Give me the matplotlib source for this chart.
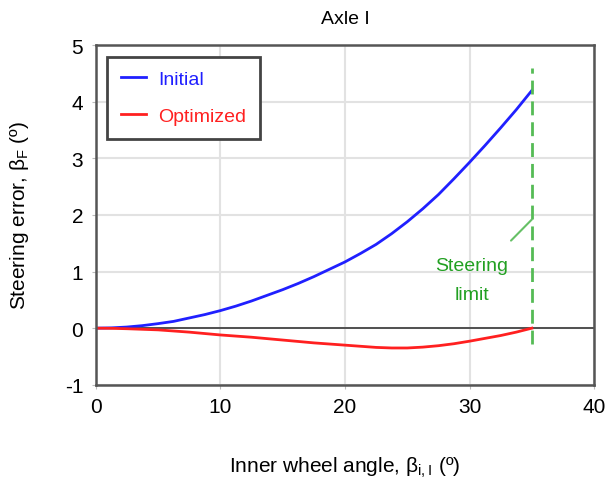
import matplotlib

matplotlib.use("agg")
import matplotlib.pyplot as plt

# steering error vs inner wheel angle (deg)
angle = [0, 1.25, 2.5, 3.75, 5, 6.25, 7.5, 8.75, 10, 11.25, 12.5, 13.75, 15, 16.25, 17.5,
         18.75, 20, 21.25, 22.5, 23.75, 25, 26.25, 27.5, 28.75, 30, 31.25, 32.5, 33.75, 35]
err_initial = [0, 0.005, 0.02, 0.045, 0.08, 0.12, 0.18, 0.24, 0.31, 0.39, 0.48, 0.58, 0.68,
               0.79, 0.91, 1.04, 1.17, 1.32, 1.48, 1.67, 1.88, 2.11, 2.36, 2.64, 2.93,
               3.23, 3.54, 3.86, 4.20]
err_optimized = [0, -0.003, -0.01, -0.02, -0.03, -0.05, -0.07, -0.095, -0.12, -0.14, -0.16,
                 -0.185, -0.21, -0.235, -0.26, -0.28, -0.30, -0.32, -0.34, -0.35, -0.35,
                 -0.335, -0.31, -0.275, -0.23, -0.18, -0.13, -0.07, 0]
steer_limit = 35

plt.rcParams["font.family"] = ["Liberation Sans", "DejaVu Sans"]
plt.rcParams["axes.unicode_minus"] = False
plt.rcParams["mathtext.default"] = "regular"

fig = plt.figure(figsize=(6.1, 4.81), dpi=100)
ax = fig.add_axes([0.157, 0.198, 0.817, 0.706])

ax.plot(angle, err_initial, color="#2020ff", lw=2, label="Initial")
ax.plot(angle, err_optimized, color="#ff2020", lw=2, label="Optimized")
ax.axhline(0, color="#444444", lw=1.3, zorder=1)
ax.plot([steer_limit, steer_limit], [-0.28, 4.6], color="#55bb55", lw=2, ls=(0, (5, 2.5)))
ax.annotate("Steering\nlimit", xy=(steer_limit, 1.92), xytext=(30.2, 0.85),
            ha="center", va="center", color="#22a022", fontsize=14, linespacing=1.9,
            arrowprops=dict(arrowstyle="-", color="#66c066", lw=1.5, shrinkA=14, shrinkB=0))

ax.set_xlim(0, 40)
ax.set_ylim(-1, 5)
ax.set_xticks([0, 10, 20, 30, 40])
ax.set_yticks(range(-1, 6))
ax.grid(True, color="#e2e2e2", lw=1.5)
ax.set_axisbelow(True)
for s in ax.spines.values():
    s.set_color("#555555")
    s.set_linewidth(1.8)
ax.tick_params(labelsize=15, length=3, color="#bbbbbb", pad=6)

ax.set_title("Axle I", fontsize=14, pad=16)
ax.set_xlabel(r"Inner wheel angle, $\beta_{i,I}$ (º)", fontsize=15, labelpad=28)
ax.set_ylabel(r"Steering error, $\beta_F$ (º)", fontsize=15, labelpad=24)

leg = ax.legend(loc="upper left", fontsize=14, handlelength=1.3, borderpad=0.7,
                handletextpad=0.6, borderaxespad=0.6, fancybox=False, framealpha=1,
                edgecolor="#444444", labelspacing=1.0)
leg.get_frame().set_linewidth(2)
for t, c in zip(leg.get_texts(), ["#2020ff", "#ff2020"]):
    t.set_color(c)

plt.savefig("out.png", dpi=100)
